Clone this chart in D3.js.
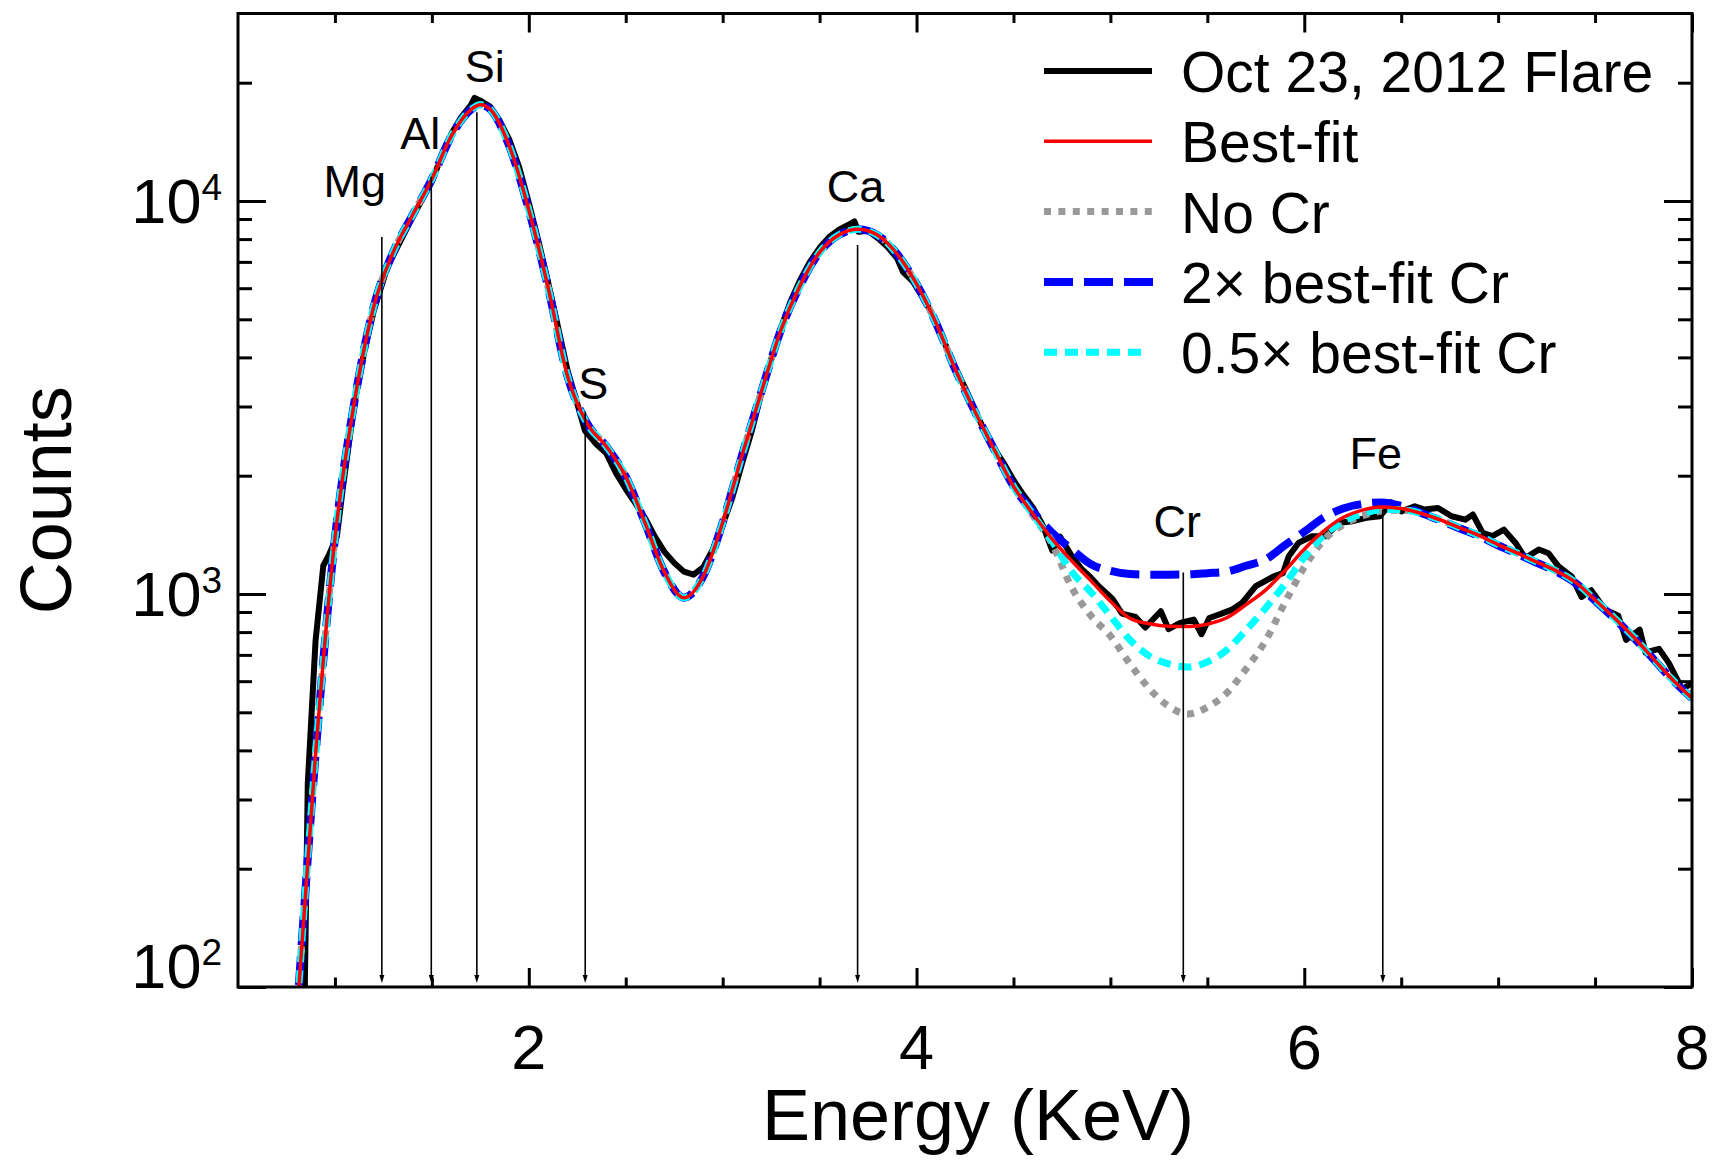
<!DOCTYPE html>
<html>
<head>
<meta charset="utf-8">
<script src="https://cdn.jsdelivr.net/npm/d3@7"></script>
<style>
  html, body { margin: 0; padding: 0; background: #fff; }
  svg { display: block; font-family: "Liberation Sans", Arial, sans-serif; }
</style>
</head>
<body>
<div id="chart"></div>
<script>
// model grid (keV)
const energies = [0.8, 0.9, 1.0, 1.1, 1.2, 1.3, 1.4, 1.5, 1.6, 1.7, 1.75, 1.8, 1.9, 2.0,
  2.1, 2.2, 2.3, 2.4, 2.5, 2.6, 2.7, 2.8, 2.9, 3.0, 3.1, 3.2, 3.3, 3.4, 3.5, 3.6, 3.7,
  3.8, 3.9, 4.0, 4.1, 4.2, 4.3, 4.4, 4.5, 4.6, 4.7, 4.8, 4.9, 5.0, 5.1, 5.2, 5.3, 5.4,
  5.5, 5.6, 5.7, 5.8, 5.9, 6.0, 6.1, 6.2, 6.3, 6.4, 6.5, 6.6, 6.7, 6.8, 6.9, 7.0, 7.1,
  7.2, 7.3, 7.4, 7.5, 7.6, 7.7, 7.8, 7.9, 8.0];

const bestFit = [80, 390, 1385, 3075, 5380, 7400, 9200, 11380, 14620, 17060, 17580, 17130, 13770, 9500,
  6010, 3580, 2720, 2375, 1990, 1515, 1135, 978, 1110, 1520, 2255, 3275, 4690, 6100, 7400, 8200, 8470,
  8180, 7330, 6150, 4900, 3730, 2920, 2335, 1880, 1600, 1380, 1215, 1080, 958, 868, 840, 828, 827,
  838, 870, 940, 1023, 1146, 1300, 1445, 1565, 1635, 1665, 1650, 1605, 1545, 1475, 1410, 1335, 1270,
  1205, 1145, 1070, 966, 869, 776, 685, 605, 543];

const noCr = [80, 390, 1385, 3075, 5380, 7400, 9200, 11380, 14620, 17060, 17580, 17130, 13770, 9500,
  6010, 3580, 2720, 2375, 1990, 1515, 1135, 978, 1110, 1520, 2255, 3275, 4690, 6100, 7400, 8200, 8470,
  8180, 7330, 6150, 4900, 3730, 2920, 2335, 1880, 1585, 1340, 1040, 880, 782, 665, 575, 518, 495,
  515, 560, 645, 760, 950, 1170, 1370, 1500, 1580, 1625, 1635, 1605, 1545, 1475, 1410, 1335, 1270,
  1205, 1145, 1070, 966, 869, 776, 685, 605, 543];

const twoCr = [80, 390, 1385, 3075, 5380, 7400, 9200, 11380, 14620, 17060, 17580, 17130, 13770, 9500,
  6010, 3580, 2720, 2375, 1990, 1515, 1135, 978, 1110, 1520, 2255, 3275, 4690, 6100, 7400, 8200, 8470,
  8180, 7330, 6150, 4900, 3730, 2920, 2335, 1880, 1620, 1430, 1300, 1190, 1145, 1124, 1120, 1120, 1122,
  1130, 1140, 1180, 1225, 1330, 1440, 1565, 1650, 1695, 1710, 1675, 1610, 1540, 1470, 1405, 1330, 1265,
  1200, 1140, 1065, 962, 866, 774, 684, 604, 543];

const halfCr = [80, 390, 1385, 3075, 5380, 7400, 9200, 11380, 14620, 17060, 17580, 17130, 13770, 9500,
  6010, 3580, 2720, 2375, 1990, 1515, 1135, 978, 1110, 1520, 2255, 3275, 4690, 6100, 7400, 8200, 8470,
  8180, 7330, 6150, 4900, 3730, 2920, 2335, 1880, 1595, 1360, 1140, 1010, 880, 765, 696, 664, 652,
  672, 720, 810, 920, 1060, 1240, 1410, 1530, 1600, 1640, 1640, 1605, 1545, 1475, 1410, 1335, 1270,
  1205, 1145, 1070, 966, 869, 776, 685, 605, 543];

// observed spectrum
const dataEnergy = [0.84, 0.86, 0.90, 0.94, 0.97, 1.01, 1.04, 1.10, 1.15, 1.20, 1.27, 1.35, 1.40, 1.45,
  1.50, 1.55, 1.60, 1.65, 1.70, 1.72, 1.75, 1.80, 1.85, 1.90, 1.95, 2.00, 2.05, 2.10, 2.15, 2.20,
  2.25, 2.29, 2.35, 2.40, 2.45, 2.50, 2.55, 2.60, 2.65, 2.70, 2.75, 2.80, 2.85, 2.90, 2.95, 3.00,
  3.05, 3.10, 3.15, 3.20, 3.25, 3.30, 3.35, 3.40, 3.45, 3.50, 3.55, 3.60, 3.65, 3.68, 3.70, 3.75,
  3.80, 3.85, 3.90, 3.93, 3.98, 4.05, 4.10, 4.15, 4.20, 4.25, 4.30, 4.35, 4.40, 4.45, 4.50, 4.55,
  4.60, 4.65, 4.70, 4.74, 4.80, 4.85, 4.90, 4.94, 5.01, 5.06, 5.13, 5.18, 5.26, 5.30, 5.36, 5.43,
  5.47, 5.51, 5.57, 5.63, 5.68, 5.75, 5.80, 5.84, 5.89, 5.92, 5.97, 6.04, 6.11, 6.18, 6.25, 6.32,
  6.39, 6.45, 6.50, 6.57, 6.62, 6.69, 6.76, 6.83, 6.87, 6.92, 6.97, 7.03, 7.09, 7.14, 7.21, 7.26,
  7.31, 7.38, 7.43, 7.48, 7.55, 7.62, 7.66, 7.73, 7.76, 7.83, 7.88, 7.95, 8.00];

const dataCounts = [70, 330, 760, 1180, 1260, 1400, 1845, 3050, 4100, 5250, 6780, 8130, 9080, 10100,
  11200, 13000, 14800, 16300, 17500, 18300, 18000, 17400, 16000, 14300, 12200, 9900, 7900, 6200, 4800, 3700,
  3050, 2600, 2400, 2280, 2030, 1850, 1700, 1560, 1400, 1280, 1200, 1140, 1120, 1170, 1300, 1500,
  1760, 2150, 2600, 3250, 3950, 4750, 5550, 6300, 7000, 7600, 8100, 8450, 8700, 8870, 8350, 8400,
  8050, 7650, 7150, 6600, 6250, 5500, 4950, 4300, 3750, 3350, 2950, 2600, 2350, 2150, 1950, 1790,
  1660, 1500, 1290, 1400, 1250, 1160, 1100, 1047, 973, 891, 874, 822, 904, 814, 844, 861,
  790, 869, 890, 914, 950, 1047, 1080, 1107, 1130, 1248, 1349, 1403, 1403, 1518, 1532, 1562,
  1577, 1710, 1623, 1672, 1640, 1655, 1577, 1546, 1593, 1430, 1403, 1458, 1349, 1234, 1298, 1270,
  1178, 1107, 983, 1023, 914, 880, 764, 812, 710, 725, 668, 572, 594];

// element line markers
const elements = ['Mg', 'Al', 'Si', 'S', 'Ca', 'Cr', 'Fe'];
const elementEnergy = [1.242, 1.497, 1.732, 2.291, 3.696, 5.376, 6.405];
const elementTop = [8100, 11530, 16830, 2915, 7730, 1135, 1641];

const xTickValues = [2, 4, 6, 8];
const xMinorValues = [1, 1.5, 2.5, 3, 3.5, 4.5, 5, 5.5, 6.5, 7, 7.5];
const yTickValues = [100, 1000, 10000];
const yTickExponents = ['2', '3', '4'];
const yMinorValues = [200, 300, 400, 500, 600, 700, 800, 900,
  2000, 3000, 4000, 5000, 6000, 7000, 8000, 9000, 20000];

const legendLabels = ['Oct 23, 2012 Flare', 'Best-fit', 'No Cr', '2\u00d7 best-fit Cr', '0.5\u00d7 best-fit Cr'];

const W = 1727, H = 1163;
const plot = { left: 238, right: 1692, top: 13.5, bottom: 987 };

const svg = d3.select('#chart').append('svg')
  .attr('width', W).attr('height', H);

const x = d3.scaleLinear().domain([0.5, 8]).range([plot.left, plot.right]);
const y = d3.scaleLog().domain([100, 30000]).range([plot.bottom, plot.top]);

svg.append('clipPath').attr('id', 'clip')
  .append('rect')
  .attr('x', plot.left).attr('y', plot.top)
  .attr('width', plot.right - plot.left).attr('height', plot.bottom - plot.top);

// series styles
const styles = [
  { color: '#000000', width: 6, dash: null },
  { color: '#ff0000', width: 3.5, dash: null },
  { color: '#999999', width: 7, dash: '7,7.4' },
  { color: '#0000ff', width: 8, dash: '29,11' },
  { color: '#00ffff', width: 7, dash: '13,8' }
];

const smooth = d3.line()
  .x(d => x(d[0]))
  .y(d => y(d[1]))
  .curve(d3.curveMonotoneX);

const jagged = d3.line()
  .x(d => x(d[0]))
  .y(d => y(d[1]));

const curves = svg.append('g').attr('clip-path', 'url(#clip)');

const drawSeries = (gen, xs, ys, st) => {
  curves.append('path')
    .datum(xs.map((e, i) => [e, ys[i]]))
    .attr('fill', 'none')
    .attr('stroke', st.color)
    .attr('stroke-width', st.width)
    .attr('stroke-linejoin', 'round')
    .attr('stroke-dasharray', st.dash)
    .attr('d', gen);
};

drawSeries(jagged, dataEnergy, dataCounts, styles[0]);
drawSeries(smooth, energies, noCr, styles[2]);
drawSeries(smooth, energies, twoCr, styles[3]);
drawSeries(smooth, energies, halfCr, styles[4]);
drawSeries(smooth, energies, bestFit, styles[1]);

// element lines + labels
const labelOffset = [[-27, -40], [-11, -28], [8, -30], [8, -12], [-2, -43], [-6, -35], [-7, -40]];
const marks = svg.append('g');
elements.forEach((name, i) => {
  const xe = x(elementEnergy[i]);
  const yt = y(elementTop[i]);
  const yb = plot.bottom - 4;
  marks.append('line')
    .attr('x1', xe).attr('x2', xe)
    .attr('y1', yt).attr('y2', yb - 6)
    .attr('stroke', '#000').attr('stroke-width', 1.6);
  marks.append('path')
    .attr('d', `M${xe - 2.5},${yb - 8}L${xe + 2.5},${yb - 8}L${xe},${yb}Z`)
    .attr('fill', '#000');
  marks.append('text')
    .attr('x', xe + labelOffset[i][0])
    .attr('y', yt + labelOffset[i][1])
    .attr('text-anchor', 'middle')
    .style('font-size', '45px')
    .text(name);
});

// axes: ticks on all four sides, pointing inward
const axes = svg.append('g');
const tickStyle = g => {
  g.select('.domain').remove();
  g.selectAll('.tick line').attr('stroke-width', 3);
  g.selectAll('.tick text').remove();
};

axes.append('g').attr('transform', `translate(0,${plot.bottom})`)
  .call(d3.axisBottom(x).tickValues(xTickValues).tickSize(-19)).call(tickStyle);
axes.append('g').attr('transform', `translate(0,${plot.bottom})`)
  .call(d3.axisBottom(x).tickValues(xMinorValues).tickSize(-9.5)).call(tickStyle);
axes.append('g').attr('transform', `translate(0,${plot.top})`)
  .call(d3.axisTop(x).tickValues(xTickValues).tickSize(-19)).call(tickStyle);
axes.append('g').attr('transform', `translate(0,${plot.top})`)
  .call(d3.axisTop(x).tickValues(xMinorValues).tickSize(-9.5)).call(tickStyle);

axes.append('g').attr('transform', `translate(${plot.left},0)`)
  .call(d3.axisLeft(y).tickValues(yTickValues).tickSize(-28)).call(tickStyle);
axes.append('g').attr('transform', `translate(${plot.left},0)`)
  .call(d3.axisLeft(y).tickValues(yMinorValues).tickSize(-14)).call(tickStyle);
axes.append('g').attr('transform', `translate(${plot.right},0)`)
  .call(d3.axisRight(y).tickValues(yTickValues).tickSize(-28)).call(tickStyle);
axes.append('g').attr('transform', `translate(${plot.right},0)`)
  .call(d3.axisRight(y).tickValues(yMinorValues).tickSize(-14)).call(tickStyle);

axes.append('rect')
  .attr('x', plot.left).attr('y', plot.top)
  .attr('width', plot.right - plot.left).attr('height', plot.bottom - plot.top)
  .attr('fill', 'none').attr('stroke', '#000').attr('stroke-width', 3);

// tick labels
axes.selectAll('.xlab').data(xTickValues).enter().append('text')
  .attr('x', d => x(d)).attr('y', plot.bottom + 82)
  .attr('text-anchor', 'middle')
  .style('font-size', '63px')
  .text(d => d);

yTickValues.forEach((v, i) => {
  const t = axes.append('text')
    .attr('x', 222)
    .attr('y', Math.min(y(v) + 22, plot.bottom + 1))
    .attr('text-anchor', 'end')
    .style('font-size', '63px');
  t.append('tspan').text('10');
  t.append('tspan').attr('dy', -23).style('font-size', '37px').text(yTickExponents[i]);
});

// axis titles
svg.append('text')
  .attr('x', 978).attr('y', 1140)
  .attr('text-anchor', 'middle')
  .style('font-size', '72px')
  .text('Energy (KeV)');

svg.append('text')
  .attr('transform', `translate(71,${(plot.top + plot.bottom) / 2}) rotate(-90)`)
  .attr('text-anchor', 'middle')
  .style('font-size', '72px')
  .text('Counts');

// legend
const legendOrder = [0, 1, 2, 3, 4];
const legendLen = [108, 108, 108, 109, 97];
const legend = svg.append('g').attr('transform', 'translate(1044,71)');
legendOrder.forEach((s, i) => {
  const st = styles[s];
  const row = legend.append('g').attr('transform', `translate(0,${i * 70.3})`);
  row.append('line')
    .attr('x1', 0).attr('x2', legendLen[i])
    .attr('stroke', st.color)
    .attr('stroke-width', st.width)
    .attr('stroke-dasharray', st.dash);
  row.append('text')
    .attr('x', 137).attr('y', 21)
    .style('font-size', '57px')
    .text(legendLabels[i]);
});
</script>
</body>
</html>
